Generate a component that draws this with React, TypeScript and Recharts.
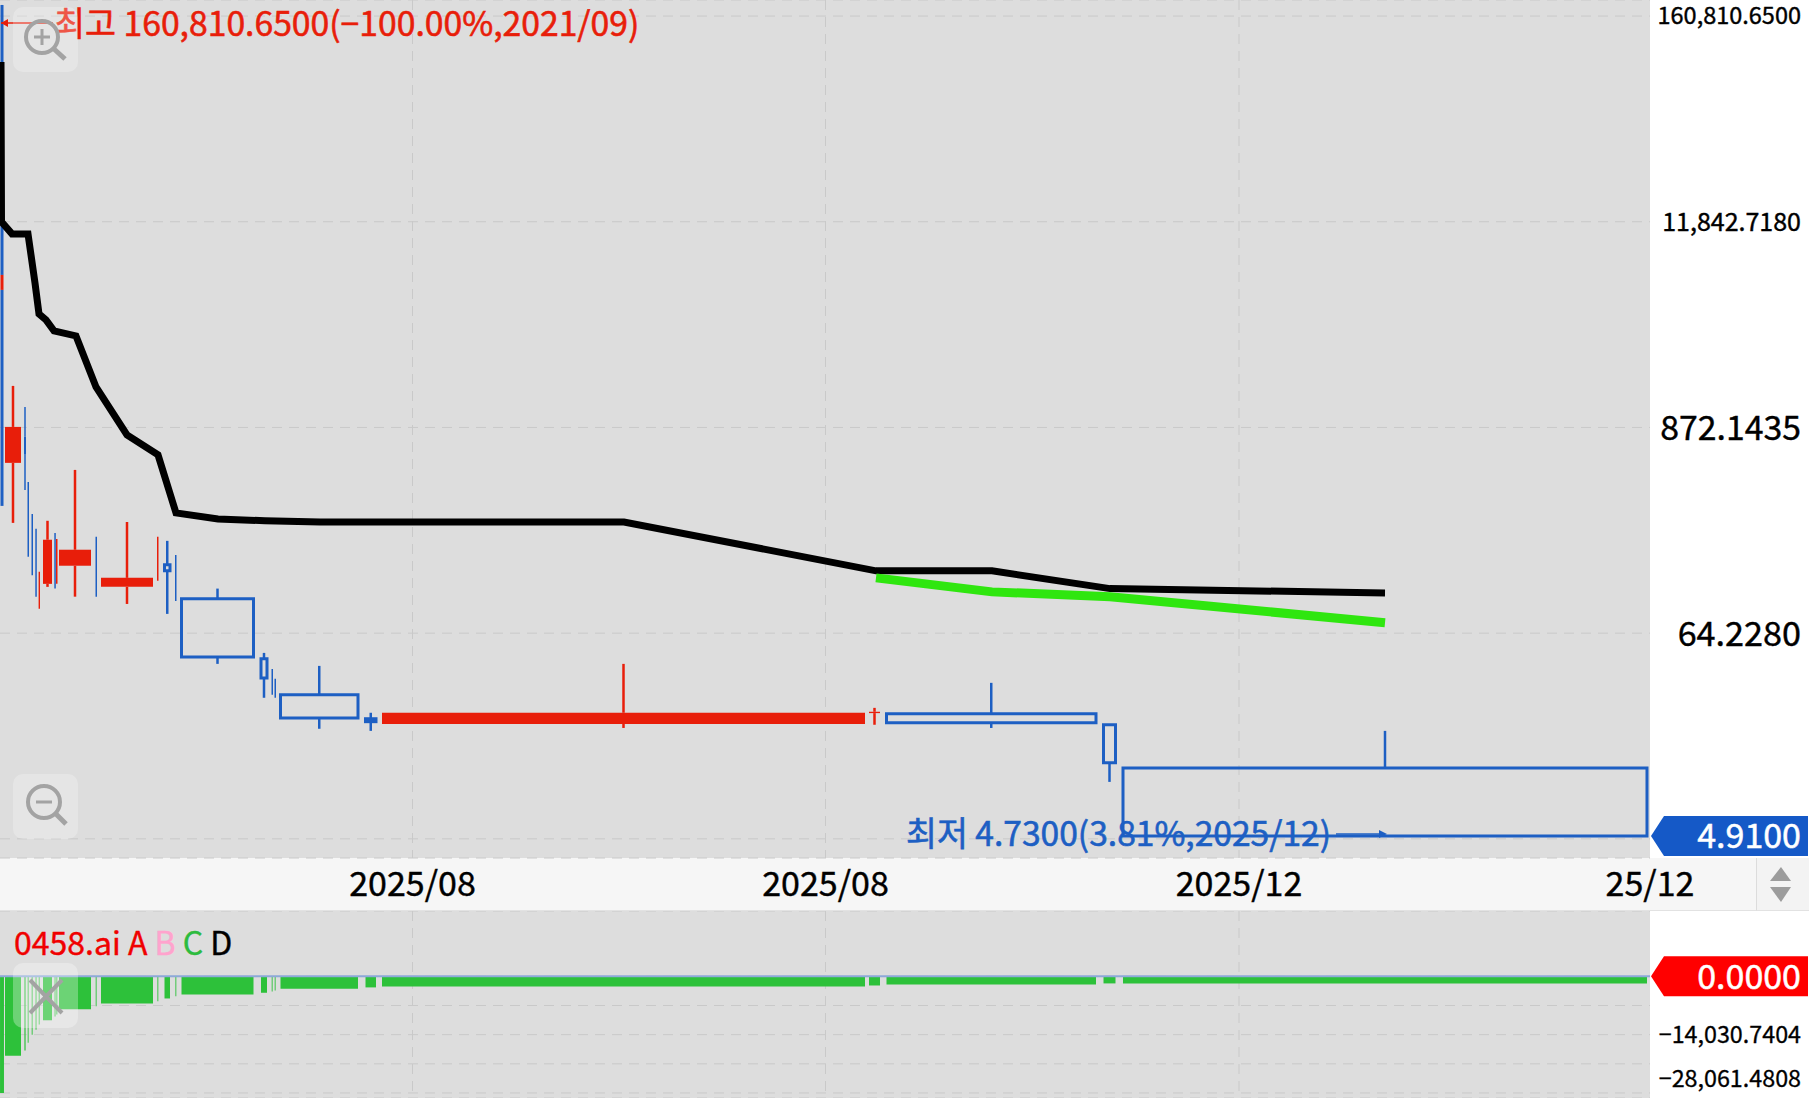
import React from "react";
import {
  CartesianGrid,
  ComposedChart,
  Line,
  ReferenceArea,
  ReferenceDot,
  ReferenceLine,
  XAxis,
  YAxis,
} from "recharts";

const FONT = '"Noto Sans CJK KR", "Noto Sans", sans-serif';
const RED = "#e81e0a";
const BLUE = "#1d5fc3";
const GRID = "#c9c9c9";

// equivolume candles: x range is cumulative volume
const volStart = [0.5, 0.5, 0.5, 0.5, 0.5, 5, 24, 27.5, 31.5, 35.3, 38.6, 43, 54.3, 56, 59, 95.5, 101, 157, 164.5, 175, 181.5, 261, 271.5, 274.5, 280.5, 365.5, 382, 869, 886.5, 1103.5, 1123];
const volEnd = [3.5, 3.5, 3.5, 3.5, 3.5, 21, 26, 29, 33, 36.8, 40, 52, 55.8, 57.5, 91, 97, 153, 158.5, 170, 176.5, 253.5, 267, 273, 276, 358, 376, 865, 880, 1096, 1115.5, 1647];
const open = [185100, 15620, 15620, 4989, 4989, 556.6, 774, 437, 291, 241, 87.4, 120, 229, 120, 151, 218, 115.5, 125, 153, 173, 99.2, 46.4, 40.8, 36, 29.4, 21.7, 20.3, 23.3, 23.1, 20.1, 11.6];
const close = [32170, 32170, 6034, 6034, 322.5, 878, 623, 169, 134, 102, 140, 210, 113, 212, 185, 102, 129.5, 218, 141.5, 96.7, 47.5, 36.4, 29.4, 28.3, 21.9, 20.9, 23.4, 23.7, 20.6, 12.4, 4.91];
const high = [185100, 32170, 15620, 6034, 4989, 1477, 1132, 437, 291, 241, 140, 267, 229, 212, 509, 218, 263, 218, 207, 173, 113, 50, 40.8, 36, 42.4, 23.4, 43.5, 24.9, 34.2, 20.3, 18.6];
const low = [32170, 15620, 6034, 4989, 322.5, 260, 395, 169, 134, 102, 87.4, 115.5, 113, 120, 102, 102, 93, 125, 82, 96.7, 43.5, 28.3, 29.4, 28.3, 19.1, 18.6, 19.3, 20.1, 19.3, 9.74, 4.91];
const oscillator = [-28061, -28061, -28061, -28061, -28061, -19110, -17830, -15970, -14030, -12820, -11610, -10570, -9680, -9190, -7910, -7180, -6530, -5970, -5320, -4770, -4350, -3950, -3630, -3390, -2980, -2660, -2420, -2200, -1940, -1700, -1700];

const lineX = [1, 1.5, 12, 28, 35, 39, 46, 54, 76, 96, 127, 158, 176, 218, 265, 320, 624, 876, 992, 1110, 1385];
const blackLine = [89860, 11820, 10150, 10150, 5452, 3680, 3410, 2967, 2784, 1458, 794, 616, 295, 273.5, 267, 263, 263, 141.5, 141.5, 113, 107];
const greenLine = [null, null, null, null, null, null, null, null, null, null, null, null, null, null, null, null, null, 129.5, 108.4, 102, 73.2];

const xTicks = [412.5, 825.5, 1239, 1650];
const xLabels = ["2025/08", "2025/08", "2025/12", "25/12"];
const gridX = [412.5, 825.5, 1239];
const priceTicks = [4.73, 64.228, 872.1435, 11842.718, 160810.65];
const priceLabels = ["", "64.2280", "872.1435", "11,842.7180", "160,810.6500"];
const priceSizes = [0, 34.2, 33.8, 25, 23.5];
const oscTicks = [-28061.4808, -21046.1106, -14030.7404, -7015.3702, 0];
const oscLabels = ["\u221228,061.4808", "", "\u221214,030.7404", "", ""];

const chartRows = lineX.map((x, i) => ({ x, black: blackLine[i], green: greenLine[i] }));

const isThin = (i: number) => volEnd[i] - volStart[i] <= 3;

const PriceTick = ({ y, payload }: any) => {
  const i = priceTicks.indexOf(payload.value);
  return (
    <text x={1801} y={y - 2} textAnchor="end" dominantBaseline="central" fontFamily={FONT} fontSize={priceSizes[i]} fill="#000" stroke="#000" strokeWidth={0.4}>
      {priceLabels[i]}
    </text>
  );
};

const OscTick = ({ y, payload }: any) => {
  const i = oscTicks.indexOf(payload.value);
  return (
    <text x={1801} y={i === 0 ? y - 16 : y - 2} textAnchor="end" dominantBaseline="central" fontFamily={FONT} fontSize={23.3} fill="#000" stroke="#000" strokeWidth={0.3}>
      {oscLabels[i]}
    </text>
  );
};

const DateTick = ({ x, y, payload }: any) => (
  <text x={x} y={y + 15} textAnchor="middle" dominantBaseline="central" fontFamily={FONT} fontSize={34} fill="#000" stroke="#000" strokeWidth={0.4}>
    {xLabels[xTicks.indexOf(payload.value)]}
  </text>
);

const badge = (text: string, color: string) => ({ cy }: any) => (
  <g>
    <polygon
      points={`1651,${cy} 1664,${cy - 20} 1808,${cy - 20} 1808,${cy + 20} 1664,${cy + 20}`}
      fill={color}
    />
    <text x={1801} y={cy - 2} textAnchor="end" dominantBaseline="central" fontFamily={FONT} fontSize={34} fill="#fff" stroke="#fff" strokeWidth={0.5}>
      {text}
    </text>
  </g>
);

const HighNote = ({ cx, cy }: any) => (
  <g>
    <line x1={cx} y1={cy + 7} x2={cx + 52} y2={cy + 7} stroke={RED} strokeWidth={1.5} />
    <polygon points={`${cx},${cy + 7} ${cx + 7},${cy + 3} ${cx + 7},${cy + 11}`} fill={RED} />
    <text x={cx + 53} y={cy + 5} dominantBaseline="central" fontFamily={FONT} fontSize={33.7} fill={RED} stroke={RED} strokeWidth={0.6}>
      최고 160,810.6500(−100.00%,2021/09)
    </text>
  </g>
);

const LowNote = ({ cx, cy }: any) => (
  <g>
    <line x1={cx - 49} y1={cy - 2} x2={cx} y2={cy - 2} stroke={BLUE} strokeWidth={1.5} />
    <polygon points={`${cx + 2},${cy - 2} ${cx - 6},${cy - 6} ${cx - 6},${cy + 2}`} fill={BLUE} />
    <text x={cx - 54} y={cy - 4} textAnchor="end" dominantBaseline="central" fontFamily={FONT} fontSize={33.6} fill={BLUE} stroke={BLUE} strokeWidth={0.6}>
      최저 4.7300(3.81%,2025/12)
    </text>
  </g>
);

const Overlay = () => (
  <svg width={1811} height={1100} style={{ position: "absolute", left: 0, top: 0, pointerEvents: "none" }}>
    <rect x={13} y={7} width={65} height={65} rx={10} fill="#fff" fillOpacity={0.25} />
    <g fill="none" stroke="#a3a3a3" strokeWidth={4}>
      <circle cx={42} cy={37} r={16} />
      <line x1={54} y1={49} x2={65} y2={59} strokeWidth={5} />
      <line x1={34} y1={37} x2={50} y2={37} strokeWidth={3} />
      <line x1={42} y1={29} x2={42} y2={45} strokeWidth={3} />
    </g>
    <rect x={13} y={774} width={65} height={65} rx={10} fill="#fff" fillOpacity={0.25} />
    <g fill="none" stroke="#a3a3a3" strokeWidth={4}>
      <circle cx={44} cy={802} r={16} />
      <line x1={56} y1={814} x2={66} y2={824} strokeWidth={5} />
      <line x1={36} y1={802} x2={52} y2={802} strokeWidth={3} />
    </g>
    <rect x={13} y={963} width={65} height={65} rx={10} fill="#fff" fillOpacity={0.3} />
    <g stroke="#a3a3a3" strokeWidth={4}>
      <line x1={30} y1={980} x2={62} y2={1013} />
      <line x1={62} y1={980} x2={30} y2={1013} />
    </g>
  </svg>
);

export default function App() {
  return (
    <div style={{ position: "absolute", left: 0, top: 0, width: 1811, height: 1100, background: "#fff", overflow: "hidden" }}>
      {/* date strip behind the axis */}
      <div style={{ position: "absolute", left: 0, top: 858, width: 1756, height: 52, background: "#f6f6f6", borderBottom: "1px solid #e2e2e2" }} />
      <div style={{ position: "absolute", left: 1756, top: 858, width: 52, height: 52, background: "#f3f3f3", borderLeft: "1px solid #dcdcdc", borderBottom: "1px solid #e2e2e2" }} />

      <div style={{ position: "absolute", left: 0, top: 0 }}>
        <ComposedChart width={1811} height={911} data={chartRows} margin={{ top: 0, right: 0, bottom: 0, left: 0 }}>
          <CartesianGrid fill="#dddddd" stroke={GRID} strokeDasharray="10 7" verticalValues={gridX} />
          <XAxis
            dataKey="x"
            type="number"
            domain={[0, 1650]}
            ticks={xTicks}
            interval={0}
            height={53}
            axisLine={false}
            tickLine={false}
            tick={<DateTick />}
            allowDataOverflow
          />
          <YAxis
            orientation="right"
            width={161}
            scale="log"
            domain={[3.71, 197100]}
            ticks={priceTicks}
            interval={0}
            axisLine={false}
            tickLine={false}
            tick={<PriceTick />}
            allowDataOverflow
          />
          {volStart.map((start, i) => {
            const mid = (start + volEnd[i]) / 2;
            const up = close[i] >= open[i];
            const color = up ? RED : BLUE;
            const thin = isThin(i);
            const wick = thin ? 1.5 : 2.5;
            return (
              <React.Fragment key={i}>
                <ReferenceLine
                  segment={[{ x: mid, y: high[i] }, { x: mid, y: Math.max(open[i], close[i]) }]}
                  stroke={color}
                  strokeWidth={wick}
                />
                <ReferenceLine
                  segment={[{ x: mid, y: Math.min(open[i], close[i]) }, { x: mid, y: low[i] }]}
                  stroke={color}
                  strokeWidth={wick}
                />
                <ReferenceArea
                  x1={start}
                  x2={volEnd[i]}
                  y1={open[i]}
                  y2={close[i]}
                  fill={up || thin ? color : "none"}
                  fillOpacity={1}
                  stroke={up || thin ? "none" : color}
                  strokeWidth={3}
                />
              </React.Fragment>
            );
          })}
          <Line dataKey="black" stroke="#000" strokeWidth={7} strokeLinecap="butt" dot={false} activeDot={false} connectNulls isAnimationActive={false} />
          <Line dataKey="green" stroke="#2fe60f" strokeWidth={9} strokeLinecap="butt" dot={false} activeDot={false} connectNulls isAnimationActive={false} />
          <ReferenceDot x={1} y={160810.65} r={0} shape={<HighNote />} />
          <ReferenceDot x={1385} y={4.91} r={0} shape={<LowNote />} />
          <ReferenceDot x={1650} y={4.91} r={0} ifOverflow="visible" shape={badge("4.9100", "#1559c7")} />
        </ComposedChart>
      </div>

      <div style={{ position: "absolute", left: 0, top: 911 }}>
        <ComposedChart width={1811} height={187} data={chartRows} margin={{ top: 0, right: 0, bottom: 0, left: 0 }}>
          <CartesianGrid fill="#dddddd" stroke={GRID} strokeDasharray="10 7" verticalValues={gridX} />
          <XAxis dataKey="x" type="number" domain={[0, 1650]} ticks={xTicks} hide allowDataOverflow />
          <YAxis
            orientation="right"
            width={161}
            domain={[-29271, 15724]}
            ticks={oscTicks}
            interval={0}
            axisLine={false}
            tickLine={false}
            tick={<OscTick />}
            allowDataOverflow
          />
          {volStart.map((start, i) => (
            <ReferenceArea
              key={i}
              x1={start}
              x2={volEnd[i]}
              y1={0}
              y2={oscillator[i]}
              fill="#2dc13a"
              fillOpacity={isThin(i) && i > 4 ? 0.6 : 1}
              stroke="none"
            />
          ))}
          <ReferenceLine y={0} stroke="#8da9d8" strokeWidth={2} />
          <ReferenceDot x={1650} y={0} r={0} ifOverflow="visible" shape={badge("0.0000", "#ff0000")} />
        </ComposedChart>
      </div>

      <div style={{ position: "absolute", left: 14, top: 921, fontFamily: FONT, fontSize: 32, lineHeight: "40px", whiteSpace: "pre", WebkitTextStroke: "0.4px" }}>
        <span style={{ color: "#f00000" }}>0458.ai A </span>
        <span style={{ color: "#ffa3cd" }}>B </span>
        <span style={{ color: "#2dbb3e" }}>C </span>
        <span style={{ color: "#000" }}>D</span>
      </div>

      <svg width={1811} height={1100} style={{ position: "absolute", left: 0, top: 0, pointerEvents: "none" }}>
        <polygon points="1781,867 1791,881 1770,881" fill="#9c9c9c" />
        <polygon points="1770,887 1791,887 1781,902" fill="#9c9c9c" />
      </svg>
      <Overlay />
    </div>
  );
}
